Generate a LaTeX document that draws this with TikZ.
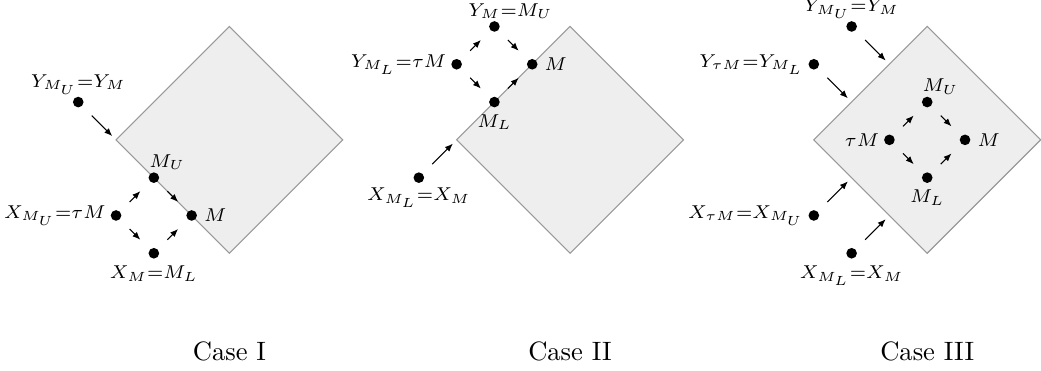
\documentclass[tikz,border=0pt]{standalone}
\usepackage{amsmath,amssymb}
\usepackage{tikz}
\usetikzlibrary{arrows.meta,positioning}
\definecolor{regionfill}{HTML}{EEEEEE}
\definecolor{regionline}{HTML}{999999}

\begin{document}
\begin{tikzpicture}[
  x=5mm, y=5mm,
  dot/.style={circle,fill=black,inner sep=0pt,minimum size=4pt},
  every label/.style={font=\scriptsize,inner sep=1.5pt},
  up/.style={inner sep=0.5pt},
  down/.style={inner sep=2.3pt},
  region/.style={draw=regionline,fill=regionfill,line width=0.4pt},
  arr/.style={-{Latex[length=3pt,width=2.4pt]},shorten <=5pt,shorten >=5pt},
  edgearr/.style={-{Latex[length=3pt,width=2.4pt]},shorten <=5pt,shorten >=2pt}
]
\useasboundingbox (0,0) rectangle (27.54,-9.81);

% Case I
\begin{scope}[shift={(6.07,-3.70)}]
\draw[region] (-3,0) -- (0,3) -- (3,0) -- (0,-3) -- cycle;
\coordinate (w1) at (-3,0);
\node[dot,label={[up]above:$Y_{M_U}{=}Y_M$}] (yu1) at (-4,1) {};
\node[dot,label={[up,xshift=5pt]above:$M_U$}] (mu1) at (-2,-1) {};
\node[dot,label={[down]right:$M$}] (m1) at (-1,-2) {};
\node[dot,label={left:$X_{M_U}{=}\tau M$}] (tm1) at (-3,-2) {};
\node[dot,label={[down]below:$X_M{=}M_L$}] (ml1) at (-2,-3) {};
\draw[edgearr] (yu1) -- (w1);
\draw[arr] (tm1) -- (mu1);
\draw[arr] (tm1) -- (ml1);
\draw[arr] (mu1) -- (m1);
\draw[arr] (ml1) -- (m1);
\node at (0,-5.59) {Case I};
\end{scope}

% Case II
\begin{scope}[shift={(15.08,-3.70)}]
\draw[region] (-3,0) -- (0,3) -- (3,0) -- (0,-3) -- cycle;
\coordinate (w2) at (-3,0);
\node[dot,label={[up,xshift=6pt]above:$Y_M{=}M_U$}] (mu2) at (-2,3) {};
\node[dot,label={left:$Y_{M_L}{=}\tau M$}] (tm2) at (-3,2) {};
\node[dot,label={[down]right:$M$}] (m2) at (-1,2) {};
\node[dot,label={[down]below:$M_L$}] (ml2) at (-2,1) {};
\node[dot,label={below:$X_{M_L}{=}X_M$}] (xl2) at (-4,-1) {};
\draw[arr] (tm2) -- (mu2);
\draw[arr] (tm2) -- (ml2);
\draw[arr] (mu2) -- (m2);
\draw[arr] (ml2) -- (m2);
\draw[edgearr] (xl2) -- (w2);
\node at (0,-5.59) {Case II};
\end{scope}

% Case III
\begin{scope}[shift={(24.53,-3.70)}]
\draw[region] (-3,0) -- (0,3) -- (3,0) -- (0,-3) -- cycle;
\coordinate (e1) at (-1,2);
\coordinate (e2) at (-2,1);
\coordinate (e3) at (-2,-1);
\coordinate (e4) at (-1,-2);
\node[dot,label={[up]above:$Y_{M_U}{=}Y_M$}] (yu3) at (-2,3) {};
\node[dot,label={left:$Y_{\tau M}{=}Y_{M_L}$}] (yt3) at (-3,2) {};
\node[dot,label={left:$X_{\tau M}{=}X_{M_U}$}] (xt3) at (-3,-2) {};
\node[dot,label={[down]below:$X_{M_L}{=}X_M$}] (xl3) at (-2,-3) {};
\node[dot,label={[up,xshift=5pt]above:$M_U$}] (mu3) at (0,1) {};
\node[dot,label={left:$\tau M$}] (tm3) at (-1,0) {};
\node[dot,label={[down]right:$M$}] (m3) at (1,0) {};
\node[dot,label={[down]below:$M_L$}] (ml3) at (0,-1) {};
\draw[edgearr] (yu3) -- (e1);
\draw[edgearr] (yt3) -- (e2);
\draw[edgearr] (xt3) -- (e3);
\draw[edgearr] (xl3) -- (e4);
\draw[arr] (tm3) -- (mu3);
\draw[arr] (tm3) -- (ml3);
\draw[arr] (mu3) -- (m3);
\draw[arr] (ml3) -- (m3);
\node at (0,-5.59) {Case III};
\end{scope}
\end{tikzpicture}
\end{document}
